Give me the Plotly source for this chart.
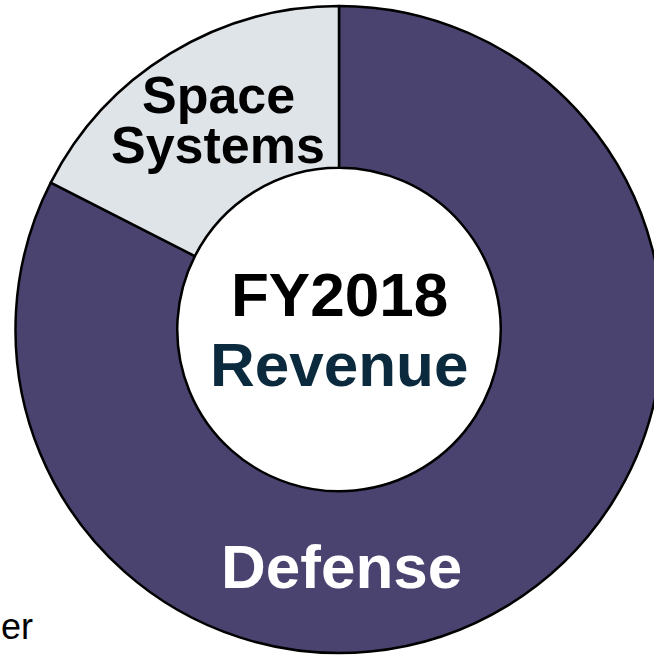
import plotly.graph_objects as go

segments = ["Defense", "Space Systems"]
shares = [82.5, 17.5]
seg_colors = ["#4a436f", "#dfe4e9"]

W, H = 680, 657

def px(x):
    return x / W

def py(y):
    return 1 - y / H

fig = go.Figure()
fig.add_trace(go.Pie(
    labels=segments,
    values=shares,
    sort=False,
    direction="clockwise",
    rotation=0,
    hole=0.5,
    textinfo="none",
    hoverinfo="label+percent",
    marker=dict(colors=seg_colors, line=dict(color="#000000", width=2.5)),
    domain=dict(x=[px(15), px(663)], y=[py(653), py(6)]),
    showlegend=False,
))

font = "Liberation Sans, Arial, sans-serif"
annots = [
    dict(text="<b>Space</b>", x=px(218), y=py(95), size=52, color="#000000"),
    dict(text="<b>Systems</b>", x=px(218), y=py(145), size=52, color="#000000"),
    dict(text="<b>FY2018</b>", x=px(339), y=py(295), size=62, color="#000000"),
    dict(text="<b>Revenue</b>", x=px(339), y=py(364), size=62, color="#0b2a3e"),
    dict(text="<b>Defense</b>", x=px(341), y=py(566), size=62, color="#ffffff"),
]
for a in annots:
    fig.add_annotation(
        text=a["text"], x=a["x"], y=a["y"], xref="paper", yref="paper",
        showarrow=False, xanchor="center", yanchor="middle",
        font=dict(family=font, size=a["size"], color=a["color"]),
    )
fig.add_annotation(
    text="er", x=0, y=py(626), xref="paper", yref="paper",
    showarrow=False, xanchor="left", yanchor="middle", borderpad=0,
    font=dict(family=font, size=36, color="#000000"),
)

fig.update_layout(
    width=W, height=H,
    margin=dict(l=0, r=0, t=0, b=0),
    paper_bgcolor="#ffffff",
    plot_bgcolor="#ffffff",
)

fig.write_html(
    "out.html",
    post_script="document.documentElement.style.overflow='hidden';document.body.style.overflow='hidden';document.body.style.margin='0';",
)
